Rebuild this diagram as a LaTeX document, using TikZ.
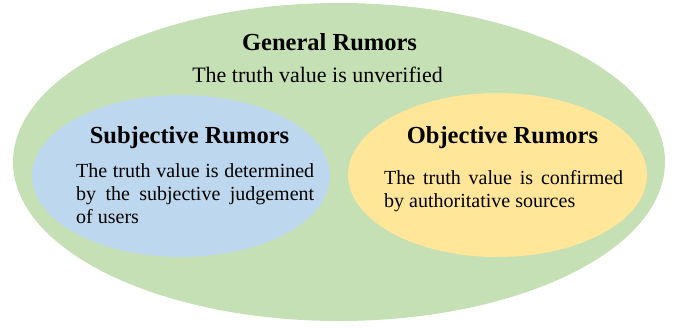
\documentclass[tikz,border=0pt]{standalone}
\usepackage{fontspec}
\setmainfont{Liberation Serif}
\usetikzlibrary{shapes.geometric}
\definecolor{cgreen}{HTML}{C5E0B4}
\definecolor{cblue}{HTML}{BDD7EE}
\definecolor{cyellow}{HTML}{FFE699}
\tikzset{
  region/.style={ellipse, inner sep=0pt, draw=none},
  title/.style={anchor=base, inner sep=0pt, font=\fontsize{24.5}{29}\selectfont\bfseries},
  maintext/.style={anchor=base, inner sep=0pt, font=\fontsize{22}{26}\selectfont},
  bodytext/.style={anchor=base west, inner sep=0pt, font=\fontsize{20}{23}\selectfont}
}
\begin{document}
\begin{tikzpicture}[x=1pt, y=-1pt]
\useasboundingbox (0,0) rectangle (678,327);
\node[region, fill=cgreen, minimum width=652pt, minimum height=318pt] (G) at (339,162) {};
\node[region, fill=cblue, minimum width=298pt, minimum height=162pt] (S) at (181,176) {};
\node[region, fill=cyellow, minimum width=299pt, minimum height=164pt] (O) at (497.5,175) {};
\node[title] (gt) at (329.5,50) {General Rumors};
\node[maintext] (gx) at (317.5,82) {The truth value is unverified};
\node[title] (st) at (189.5,143) {Subjective Rumors};
\node[title] (ot) at (502.5,143) {Objective Rumors};
\node[bodytext] (s1) at (76,177) {\makebox[238pt][s]{The truth value is determined}};
\node[bodytext] (s2) at (76,200) {\makebox[238pt][s]{by the subjective judgement}};
\node[bodytext] (s3) at (76,223) {of users};
\node[bodytext] (o1) at (384,184) {\makebox[239pt][s]{The truth value is confirmed}};
\node[bodytext] (o2) at (384,207) {by authoritative sources};
\end{tikzpicture}
\end{document}
